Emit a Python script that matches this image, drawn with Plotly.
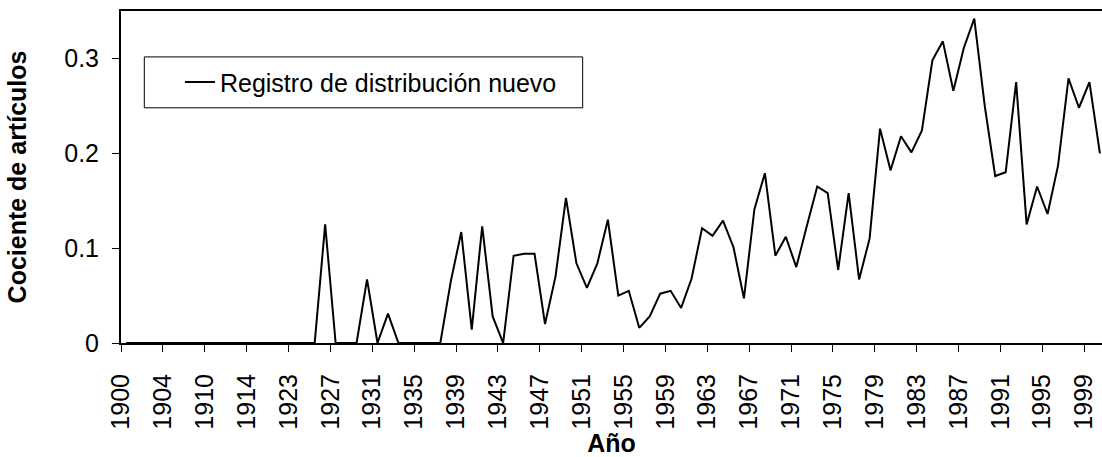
import plotly.graph_objects as go

# Categories (years present in the series; a few early years are absent)
years = [1900, 1901, 1902, 1903, 1904, 1906, 1908, 1909,
         1910, 1911, 1912, 1913, 1914, 1916, 1919, 1921] + list(range(1923, 2001))

# Ratio of articles per year
ratio = [0, 0, 0, 0, 0, 0, 0, 0, 0, 0,
         0, 0, 0, 0, 0, 0, 0, 0, 0, 0.125,
         0, 0, 0, 0.067, 0, 0.031, 0, 0, 0, 0,
         0, 0.065, 0.117, 0.014, 0.123, 0.028, 0.0, 0.092, 0.094, 0.094,
         0.020, 0.070, 0.153, 0.084, 0.058, 0.084, 0.130, 0.050, 0.055, 0.016,
         0.028, 0.052, 0.055, 0.037, 0.068, 0.121, 0.113, 0.129, 0.101, 0.047,
         0.141, 0.179, 0.092, 0.112, 0.080, 0.123, 0.165, 0.158, 0.077, 0.158,
         0.067, 0.110, 0.226, 0.182, 0.218, 0.201, 0.224, 0.298, 0.318, 0.266,
         0.311, 0.342, 0.250, 0.176, 0.180, 0.275, 0.125, 0.165, 0.136, 0.187,
         0.279, 0.248, 0.275, 0.200]

y_ticks = [0, 0.1, 0.2, 0.3]
y_tick_labels = ["0", "0.1", "0.2", "0.3"]
label_every = 4

series_name = "Registro de distribución nuevo"
x_title = "Año"
y_title = "Cociente de artículos"

FONT = "Arial, Liberation Sans, sans-serif"

pos = list(range(len(years)))
tick_idx = list(range(0, len(years), label_every))

fig = go.Figure()
fig.add_trace(go.Scatter(
    x=pos, y=ratio, mode="lines", name=series_name,
    line=dict(color="black", width=2),
))

fig.update_layout(
    width=1102, height=457,
    margin=dict(l=121, r=0, t=11, b=114),
    paper_bgcolor="white", plot_bgcolor="white",
    font=dict(family=FONT, size=24, color="black"),
    showlegend=True,
    legend=dict(
        x=0.0601, xanchor="left", y=0.7856, yanchor="middle",
        bgcolor="rgba(0,0,0,0)", borderwidth=0,
        font=dict(family=FONT, size=25, color="black"),
    ),
    shapes=[dict(
        type="rect", xref="paper", yref="paper",
        x0=0.02375, x1=0.4706, y0=0.7084, y1=0.8617,
        line=dict(color="black", width=1), fillcolor="rgba(0,0,0,0)",
    )],
)

fig.update_xaxes(
    type="linear", range=[-0.5, 93.2],
    tickmode="array",
    tickvals=[i - 0.5 for i in tick_idx],
    ticktext=[str(years[i]) for i in tick_idx],
    tickangle=-90,
    ticks="outside", ticklen=7, tickwidth=1, tickcolor="black",
    showline=True, linewidth=2, linecolor="black", mirror=True,
    showgrid=False, zeroline=False,
    tickfont=dict(family=FONT, size=25, color="black"),
    ticklabelstandoff=12,
    title=dict(text="<b>" + x_title + "</b>", font=dict(family=FONT, size=25, color="black"), standoff=10),
)
fig.update_yaxes(
    range=[0, 0.35],
    tickmode="array", tickvals=y_ticks, ticktext=y_tick_labels,
    ticks="outside", ticklen=7, tickwidth=1, tickcolor="black",
    showline=True, linewidth=2, linecolor="black", mirror=False,
    showgrid=False, zeroline=False,
    tickfont=dict(family=FONT, size=25, color="black"),
    ticklabelstandoff=8,
    title=dict(text="<b>" + y_title + "</b>", font=dict(family=FONT, size=25, color="black"), standoff=30),
)

fig.write_html("out.html", config={"displayModeBar": False},
               post_script="document.body.style.margin='0';")
